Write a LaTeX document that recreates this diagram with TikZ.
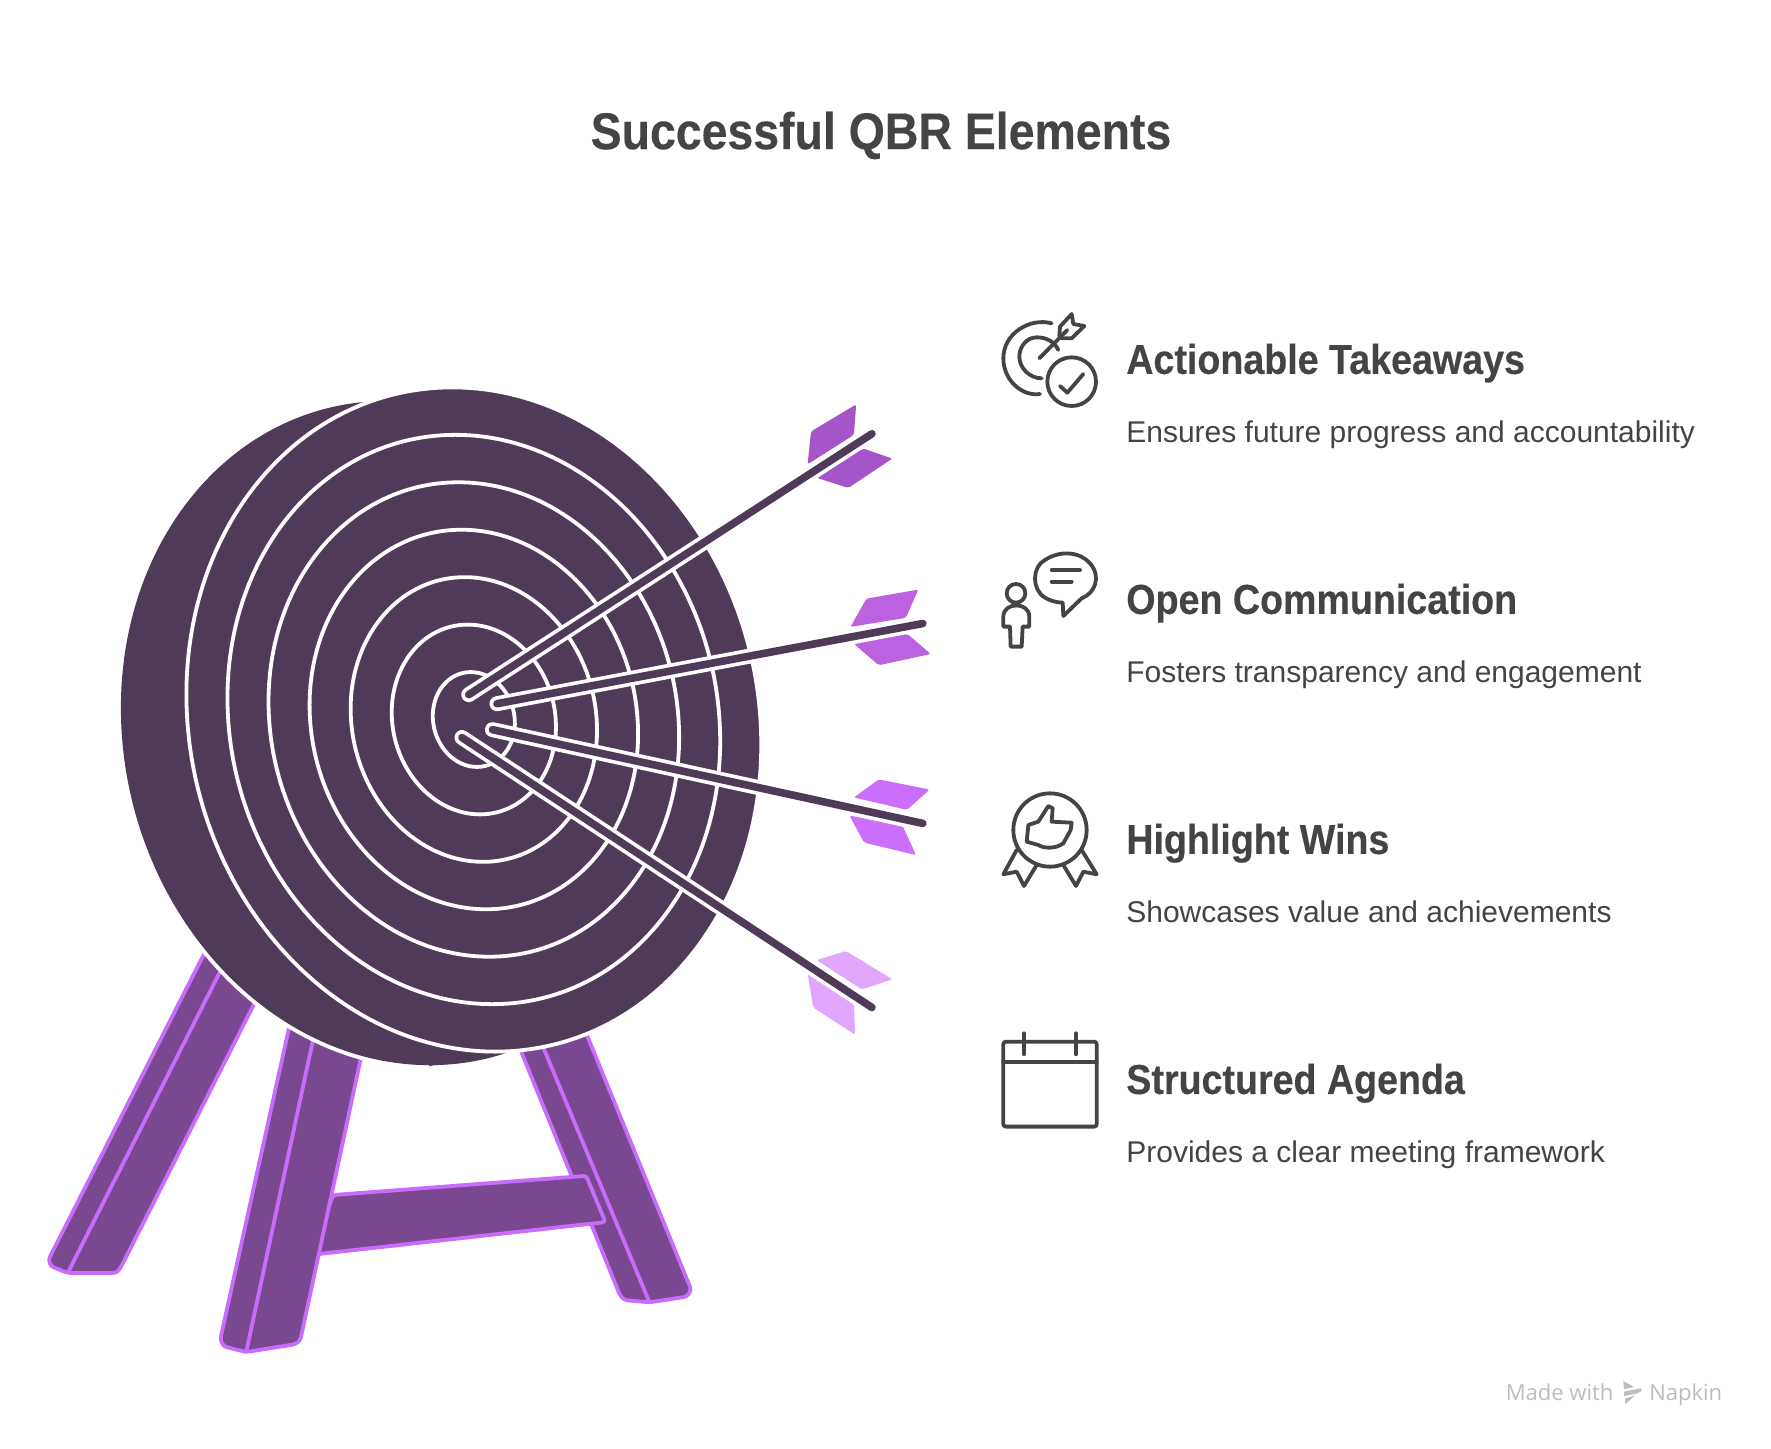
\documentclass[tikz,border=0pt]{standalone}
\usepackage{fontspec}
\setmainfont{Liberation Sans}
\newfontfamily\headfont[FakeStretch=0.9,FakeBold=0.3]{Liberation Sans}
\newfontfamily\markfont{Open Sans}
\definecolor{disc}{HTML}{4F3B57}
\definecolor{legfill}{HTML}{7A4890}
\definecolor{legline}{HTML}{C86DFB}
\definecolor{ink}{HTML}{444444}
\definecolor{finA}{HTML}{A555C8}
\definecolor{finB}{HTML}{BC62E0}
\definecolor{finC}{HTML}{CB6EFB}
\definecolor{finD}{HTML}{E2A7FD}
\definecolor{wmgray}{HTML}{BDBDBD}
\tikzset{
  leg/.style={fill=legfill,draw=legline,line width=3.8pt,line join=round,rounded corners=3pt},
  legedge/.style={draw=legline,line width=3.8pt},
  ring/.style={draw=white,line width=3.8pt},
  fin/.style={rounded corners=2pt},
  halo/.style={draw=white,line width=15pt,line cap=round},
  shaft/.style={draw=disc,line width=7.6pt,line cap=round},
  icon/.style={draw=ink,line width=3.8pt,line cap=round,line join=round,fill=none},
  ttl/.style={font=\headfont\fontsize{51.6}{60}\selectfont\bfseries,text=ink,anchor=base},
  hd/.style={font=\headfont\fontsize{41.8}{50}\selectfont\bfseries,text=ink,anchor=base west,inner sep=0pt},
  dsc/.style={font=\fontsize{30}{36}\selectfont,text=ink,anchor=base west,inner sep=0pt},
  wm/.style={font=\markfont\fontsize{22}{26}\selectfont,text=wmgray,anchor=base west,inner sep=0pt},
  tilt/.style={x={(286.6pt,0pt)},y={(21.5pt,-332.1pt)}}
}
\begin{document}
\begin{tikzpicture}[x=1pt,y=-1pt]
\useasboundingbox[fill=white] (0,0) rectangle (1771,1448);
\begin{scope}[x=1.1295pt,y=-1.1295pt]
% legs
\draw[leg] (459,925) -- (549,1147) -- (553,1151) -- (575,1153) -- (608,1148) -- (612,1142) -- (517,910) -- cycle;
\draw[legedge] (480,925) -- (575,1153);
\draw[leg] (295,1058) -- (519,1041) -- (536,1082) -- (275,1111) -- cycle;
\draw[leg] (257,905) -- (195,1186) -- (198,1192) -- (218,1197) -- (262,1190) -- (266,1186) -- (322,925) -- cycle;
\draw[legedge] (279,912) -- (218,1197);
\draw[leg] (183,840) -- (43,1115) -- (45,1121) -- (60,1127) -- (103,1127) -- (107,1122) -- (232,875) -- cycle;
\draw[legedge] (200,850) -- (60,1127);
% disc
\coordinate (fc) at (419.5,637);
\coordinate (bc) at (361.5,649);
\coordinate (ft) at (400,343);
\coordinate (bt) at (343,354);
\coordinate (bb) at (380,944);
\coordinate (fb) at (437,931);
\draw[white,line width=8pt,tilt] (bc) circle [radius=1];
\draw[white,line width=8pt] (ft) -- (bt) -- (bb) -- (fb);
\fill[disc,tilt] (bc) circle [radius=1];
\fill[disc] (ft) -- (bt) -- (bb) -- (fb) -- cycle;
\fill[disc,tilt] (fc) circle [radius=1];
\foreach \n in {7,6,5,4,3,2,1}{
  \draw[ring,tilt] (fc) circle [radius=\n/7];
}
% arrow fins
\fill[finA,fin] (758,358) -- (756,385) -- (715,411) -- (718,382) -- cycle;
\fill[finA,fin] (790,406) -- (751,432) -- (723,423) -- (764,397) -- cycle;
\fill[finB,fin] (813,522) -- (802,547) -- (753,555) -- (767,530) -- cycle;
\fill[finB,fin] (824,579) -- (778,589) -- (756,570) -- (803,561) -- cycle;
\fill[finC,fin] (823,699) -- (803,717) -- (756,706) -- (778,690) -- cycle;
\fill[finC,fin] (811,757) -- (765,746) -- (752,722) -- (799,731) -- cycle;
\fill[finD,fin] (790,867) -- (763,876) -- (723,850) -- (749,842) -- cycle;
\fill[finD,fin] (757,916) -- (720,892) -- (715,862) -- (756,888) -- cycle;
% arrows
\coordinate (a1s) at (415,615); \coordinate (a1e) at (772,384);
\coordinate (a2s) at (440,623); \coordinate (a2e) at (817,552);
\coordinate (a3s) at (436,646); \coordinate (a3e) at (817,729);
\coordinate (a4s) at (409,653); \coordinate (a4e) at (772,892);
\foreach \i in {1,2,3,4}{
  \draw[halo] (a\i s) -- (a\i e);
  \draw[shaft] (a\i s) -- (a\i e);
}
% text
\node[ttl] (title) at (780,132) {Successful QBR Elements};
\node[hd] (h1) at (997,331) {Actionable Takeaways};
\node[dsc] (d1) at (997,392) {Ensures future progress and accountability};
\node[hd] (h2) at (997,543.5) {Open Communication};
\node[dsc] (d2) at (997,604.5) {Fosters transparency and engagement};
\node[hd] (h3) at (997,756) {Highlight Wins};
\node[dsc] (d3) at (997,817) {Showcases value and achievements};
\node[hd] (h4) at (997,968.5) {Structured Agenda};
\node[dsc] (d4) at (997,1029.5) {Provides a clear meeting framework};
\node[wm] (m1) at (1333,1239.5) {Made with};
\node[wm] (m2) at (1460,1239.5) {Napkin};
\end{scope}
% icons, upper pair
\begin{scope}[shift={(980,300)},x=0.3333pt,y=-0.3333pt]
\draw[icon] (215,70) .. controls (150,52) and (70,100) .. (70,175) .. controls (70,240) and (125,290) .. (180,282);
\draw[icon] (235,150) .. controls (222,122) and (195,112) .. (170,112) .. controls (140,112) and (118,140) .. (118,170) .. controls (118,205) and (150,235) .. (185,235);
\draw[icon] (178,175) -- (262,90);
\draw[icon] (238,108) -- (240,80) -- (275,42) -- (280,72) -- (313,78) -- (275,115) -- (245,115) -- cycle;
\draw[icon] (275,245) circle [radius=73];
\draw[icon] (240,258) -- (262,278) -- (310,222);
\draw[icon] (195,893) .. controls (155,870) and (155,800) .. (195,780) .. controls (240,750) and (300,755) .. (330,790) .. controls (365,830) and (345,880) .. (305,895) -- (250,948) -- (248,908) .. controls (230,908) and (210,902) .. (195,893) -- cycle;
\draw[icon] (215,810) -- (300,810);
\draw[icon] (215,845) -- (275,845);
\draw[icon] (108,880) circle [radius=28];
\draw[icon] (92,1040) -- (90,980) -- (70,980) -- (70,950) .. controls (70,905) and (148,905) .. (148,950) -- (148,980) -- (128,980) -- (125,1040) -- cycle;
\end{scope}
% icons, lower pair
\begin{scope}[shift={(980,780)},x=0.3333pt,y=-0.3333pt]
\draw[icon] (210,150) circle [radius=110];
\draw[icon] (140,185) -- (145,135) -- (175,125) -- (205,78) -- (218,85) -- (215,125) -- (275,128) -- (272,150) -- (250,190) .. controls (225,208) and (190,205) .. (175,195) -- cycle;
\draw[icon] (110,210) -- (70,283) -- (110,275) -- (132,318) -- (170,255);
\draw[icon] (305,210) -- (350,283) -- (310,275) -- (288,318) -- (250,255);
\draw[icon,rounded corners=2.5pt] (70,785) rectangle (350,1040);
\draw[icon] (70,845) -- (350,845);
\draw[icon] (132,760) -- (132,823);
\draw[icon] (288,760) -- (288,823);
\end{scope}
% watermark logo
\begin{scope}[shift={(1610,1375)},x=0.3333pt,y=-0.3333pt]
\fill[wmgray] (40,18) -- (72,36) -- (42,42) -- cycle;
\fill[wmgray] (42,50) -- (92,40) -- (95,47) -- (82,55) -- (42,63) -- cycle;
\fill[wmgray] (45,71) -- (75,61) -- (45,88) -- cycle;
\end{scope}
\end{tikzpicture}
\end{document}
